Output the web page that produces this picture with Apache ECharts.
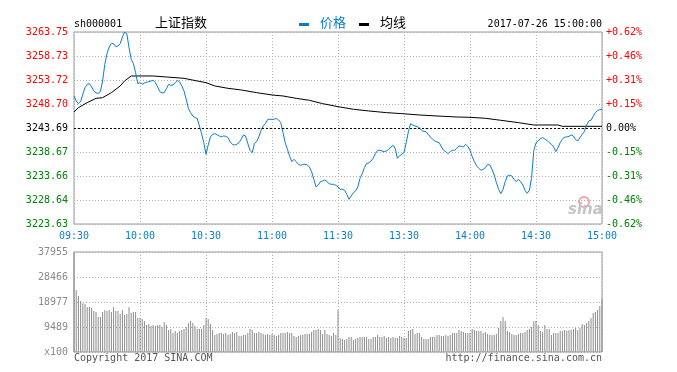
<!DOCTYPE html>
<html><head><meta charset="utf-8">
<script src="https://cdn.jsdelivr.net/npm/echarts@6/dist/echarts.min.js"></script>
<style>html,body{margin:0;padding:0;background:#fff}#c{width:677px;height:372px}</style>
</head><body><div id="c"></div>
<script>
// ---- data ----
const prevClose = 3243.69;
const priceMin = 3223.63;
const priceMax = 3263.75;
const volMax = 37955;

const priceTicks = ['3223.63','3228.64','3233.66','3238.67','3243.69','3248.70','3253.72','3258.73','3263.75'];
const pctTicks = ['-0.62%','-0.46%','-0.31%','-0.15%','0.00%','+0.15%','+0.31%','+0.46%','+0.62%'];
const volTicks = ['x100','9489','18977','28466','37955'];
const xTicks = ['09:30','10:00','10:30','11:00','11:30','13:30','14:00','14:30','15:00'];

// price per minute 09:30-10:30
const price0930 = [
3250.38,3249.34,3248.78,3249.20,3250.73,3252.12,3252.82,3252.96,3252.26,3251.43,
3251.01,3250.94,3251.29,3253.52,3257.00,3259.23,3260.62,3261.39,3261.32,3260.69,
3260.83,3261.32,3262.71,3263.75,3263.40,3260.48,3258.04,3257.14,3255.26,3252.96,
3253.17,3252.82,3253.10,3253.24,3253.38,3253.52,3253.66,3253.17,3252.26,3251.29,
3251.01,3251.08,3251.91,3252.82,3252.61,3252.68,3253.17,3253.66,3253.31,3252.47,
3251.43,3249.69,3247.74,3246.90,3246.20,3245.85,3245.72,3244.11,3242.51,3240.63,
3238.19];
// 10:31-11:30
const price1031 = [
3240.14,3241.81,3242.37,3242.51,3242.30,3242.02,3241.88,3242.02,3241.95,3241.68,
3240.77,3240.28,3240.14,3240.28,3240.63,3241.33,3242.23,3242.02,3240.42,3239.03,
3238.54,3240.42,3240.84,3241.81,3243.21,3244.11,3244.60,3245.44,3245.51,3245.51,
3245.51,3245.72,3245.37,3244.81,3242.72,3240.63,3239.24,3237.84,3236.66,3237.15,
3236.66,3236.10,3235.89,3236.10,3236.10,3235.96,3235.55,3234.57,3232.97,3231.37,
3231.79,3232.48,3232.62,3232.83,3232.48,3232.06,3231.92,3231.92,3231.72,3231.37];
// 13:01-14:00
const price1301 = [
3230.88,3230.88,3230.67,3229.83,3228.79,3229.49,3230.18,3230.53,3231.37,3233.18,
3234.15,3235.41,3236.24,3236.38,3236.80,3237.36,3238.33,3239.03,3239.03,3238.89,
3238.75,3238.89,3239.17,3239.73,3240.07,3239.45,3237.36,3237.91,3238.19,3238.54,
3240.63,3242.93,3244.60,3244.32,3244.11,3243.97,3243.76,3243.21,3242.93,3242.93,
3242.37,3241.81,3241.33,3240.98,3240.77,3240.63,3239.73,3239.03,3238.75,3238.33,
3238.75,3239.03,3239.03,3239.45,3239.93,3239.86,3239.73,3240.28,3239.86,3239.03];
// 14:01-15:00
const price1401 = [
3237.71,3236.66,3235.76,3235.27,3234.85,3235.06,3235.41,3236.10,3235.96,3235.06,
3233.87,3232.27,3230.88,3229.97,3230.88,3232.48,3233.67,3233.81,3233.67,3232.97,
3232.48,3232.97,3232.48,3231.79,3230.67,3230.04,3230.67,3233.32,3239.03,3240.56,
3240.98,3241.47,3241.68,3241.40,3241.12,3240.63,3240.28,3239.73,3238.75,3239.59,
3240.63,3241.33,3241.81,3241.81,3241.95,3242.23,3242.02,3241.26,3240.98,3241.68,
3242.37,3242.93,3244.32,3245.16,3245.30,3246.13,3246.90,3247.39,3247.53,3247.60];

// average price line, read at [minute index, value]
const avgPoints = [
[0,3247.04],[2,3247.94],[6,3248.99],[10,3249.89],[13,3250.03],[17,3251.08],[21,3252.47],
[23,3253.52],[26,3254.56],[36,3254.56],[42,3254.35],[50,3254.07],[56,3253.52],[60,3253.17],
[64,3252.47],[70,3251.98],[76,3251.64],[83,3251.08],[90,3250.59],[95,3250.38],[101,3249.89],
[107,3249.48],[113,3248.78],[120,3248.15],[127,3247.60],[134,3247.25],[142,3246.90],
[149,3246.69],[157,3246.41],[165,3246.20],[174,3245.99],[180,3245.92],[187,3245.72],
[194,3245.30],[202,3244.81],[209,3244.32],[220,3244.32],[222,3244.04],[240,3244.04]];

// volume (x100) per minute 09:30-11:30
const volMorning = [
37955,23529,21252,19355,18469,18216,17078,17078,16698,15560,
15180,13283,13283,15180,15939,15560,15939,15180,17078,15560,
15560,14421,15939,14042,14421,17078,14801,15180,15180,12903,
12903,12524,11765,10247,10626,9867,10247,9867,10247,10247,
9488,11385,10247,8349,8729,7211,7970,7211,7970,8349,
8729,9488,11006,11765,11006,9867,8729,8729,8729,10247,
12903,12524,10626,8349,6452,6831,7211,7211,6831,7211,
6452,6831,7590,7211,7590,6072,6072,6452,6452,7211,
8729,8349,7211,7211,7590,7211,6831,6452,6831,6452,
6831,6452,6072,6452,7211,7211,7211,7590,7211,7211,
6072,5693,6072,6452,6452,6831,6831,6831,7590,8349,
8349,8729,8349,6831,8349,6831,6452,6072,7211,6452,
15939];
// volume (x100) per minute 13:01-15:00
const volAfternoon = [
5187,4934,4554,4934,5693,5693,4554,4934,5313,5693,
5693,5693,5693,4934,4934,5693,5693,6452,5693,5693,
6072,5313,5693,5313,5693,5313,5313,6072,5693,5313,
5313,7970,8349,8729,6831,7211,7211,5693,4934,4934,
4934,5693,5693,5693,6452,6452,6072,6072,6452,6072,
6452,7211,7211,7211,8349,7970,7590,7211,7211,7211,
8729,8349,7970,7970,7970,7211,7590,6831,6452,6452,
6452,6831,9108,11765,13283,11765,7970,7590,6831,6452,
6452,6831,7211,7211,7590,8349,8729,9488,11765,11765,
10247,7970,7590,10247,8729,8729,6452,7211,7211,7211,
7970,7970,8349,7970,8349,8349,8729,9108,8349,9108,
10626,10247,11006,11765,12903,14801,15180,15939,17457,20114];

// ---- build ----
function hhmm(m){const h=Math.floor(m/60),mm=m%60;return (h<10?'0':'')+h+':'+(mm<10?'0':'')+mm;}
const times=[];
for(let m=9*60+30;m<=11*60+30;m++) times.push(hhmm(m));
for(let m=13*60+1;m<=15*60;m++) times.push(hhmm(m));
const price = [].concat(price0930, price1031, price1301, price1401);
const volume = [].concat(volMorning, volAfternoon);

const mono = 'DejaVu Sans Mono';
const cjk = '"Noto Sans CJK SC", sans-serif';
const blue = '#0b7dc8';
const pStep = (priceMax - priceMin) / 8;
const vStep = volMax / 4;
function tickIdx(v, min, step){return Math.round((v - min) / step);}
function colorKey(i){return i < 4 ? 'g' : (i > 4 ? 'r' : 'k');}
const richPrice = {
  r:{color:'#ff0000',fontFamily:mono,fontSize:10},
  g:{color:'#008000',fontFamily:mono,fontSize:10},
  k:{color:'#000000',fontFamily:mono,fontSize:10}
};
const dotted = {color:'#b0b0b0', type:[1,2], width:1};

const chart = echarts.init(document.getElementById('c'), null, {renderer:'canvas'});
chart.setOption({
  animation:false,
  backgroundColor:'#fff',
  grid:[
    {left:74, top:32, width:528, height:192, show:true, borderColor:'#999', borderWidth:1, backgroundColor:'transparent'},
    {left:74, top:252, width:528, height:100, show:true, borderColor:'#999', borderWidth:1, backgroundColor:'transparent'}
  ],
  xAxis:[
    {type:'category', gridIndex:0, data:times, boundaryGap:false,
     axisLine:{show:false}, axisTick:{show:false},
     axisLabel:{interval:29, color:blue, fontFamily:mono, fontSize:10, margin:7,
       formatter:(v)=> xTicks.indexOf(v) >= 0 ? v : ''},
     splitLine:{show:true, interval:29, lineStyle:dotted}},
    {type:'category', gridIndex:1, data:times, boundaryGap:false,
     axisLine:{show:false}, axisTick:{show:false}, axisLabel:{show:false},
     splitLine:{show:true, interval:29, lineStyle:dotted}}
  ],
  yAxis:[
    {type:'value', gridIndex:0, min:priceMin, max:priceMax, interval:pStep, position:'left',
     axisLine:{show:false}, axisTick:{show:false},
     splitLine:{show:true, lineStyle:dotted},
     axisLabel:{margin:6, rich:richPrice,
       formatter:(v)=>{const i=tickIdx(v,priceMin,pStep);return '{'+colorKey(i)+'|'+(priceTicks[i]||'')+'}';}}},
    {type:'value', gridIndex:0, min:priceMin, max:priceMax, interval:pStep, position:'right',
     axisLine:{show:false}, axisTick:{show:false}, splitLine:{show:false},
     axisLabel:{margin:4, rich:richPrice,
       formatter:(v)=>{const i=tickIdx(v,priceMin,pStep);return '{'+colorKey(i)+'|'+(pctTicks[i]||'')+'}';}}},
    {type:'value', gridIndex:1, min:0, max:volMax, interval:vStep,
     axisLine:{show:false}, axisTick:{show:false},
     splitLine:{show:true, lineStyle:dotted},
     axisLabel:{margin:6, color:'#8a8a8a', fontFamily:mono, fontSize:10,
       formatter:(v)=> volTicks[tickIdx(v,0,vStep)] || ''}}
  ],
  series:[
    {name:'均线', type:'line', xAxisIndex:0, yAxisIndex:0, data:avgPoints, showSymbol:false,
     lineStyle:{color:'#000', width:1}, itemStyle:{color:'#000'}, silent:true, z:3},
    {name:'价格', type:'line', xAxisIndex:0, yAxisIndex:0, data:price, showSymbol:false,
     lineStyle:{color:blue, width:1}, itemStyle:{color:blue}, silent:true, z:4,
     markLine:{silent:true, symbol:'none', label:{show:false},
       lineStyle:{color:'#000', type:[2,2], width:1},
       data:[{yAxis:prevClose}]}},
    {name:'成交量', type:'bar', xAxisIndex:1, yAxisIndex:2, data:volume, barWidth:1, clip:false,
     itemStyle:{color:'#8c8c8c'}, silent:true}
  ],
  graphic:[
    {type:'text', left:74, top:19, style:{text:'sh000001', font:'10px "DejaVu Sans Mono"', fill:'#000'}},
    {type:'text', left:155, top:16, style:{text:'上证指数', font:'13px '+cjk, fill:'#000'}},
    {type:'rect', shape:{x:299, y:23, width:10, height:3}, style:{fill:blue}},
    {type:'text', left:320, top:16, style:{text:'价格', font:'13px '+cjk, fill:blue}},
    {type:'rect', shape:{x:359, y:23, width:10, height:3}, style:{fill:'#000'}},
    {type:'text', left:380, top:16, style:{text:'均线', font:'13px '+cjk, fill:'#000'}},
    {type:'text', right:75, top:19, style:{text:'2017-07-26 15:00:00', font:'10px "DejaVu Sans Mono"', fill:'#000'}},
    {type:'text', left:74, top:353, style:{text:'Copyright 2017 SINA.COM', font:'10px "DejaVu Sans Mono"', fill:'#555'}},
    {type:'text', right:75, top:353, style:{text:'http://finance.sina.com.cn', font:'10px "DejaVu Sans Mono"', fill:'#555'}},
    {type:'circle', shape:{cx:584, cy:202, r:5}, style:{fill:'none', stroke:'#f4a6a6', lineWidth:2}},
    {type:'text', left:568, top:203, style:{text:'sina', font:'italic bold 15px "DejaVu Sans"', fill:'#c4c4c4'}}
  ]
});
</script></body></html>
